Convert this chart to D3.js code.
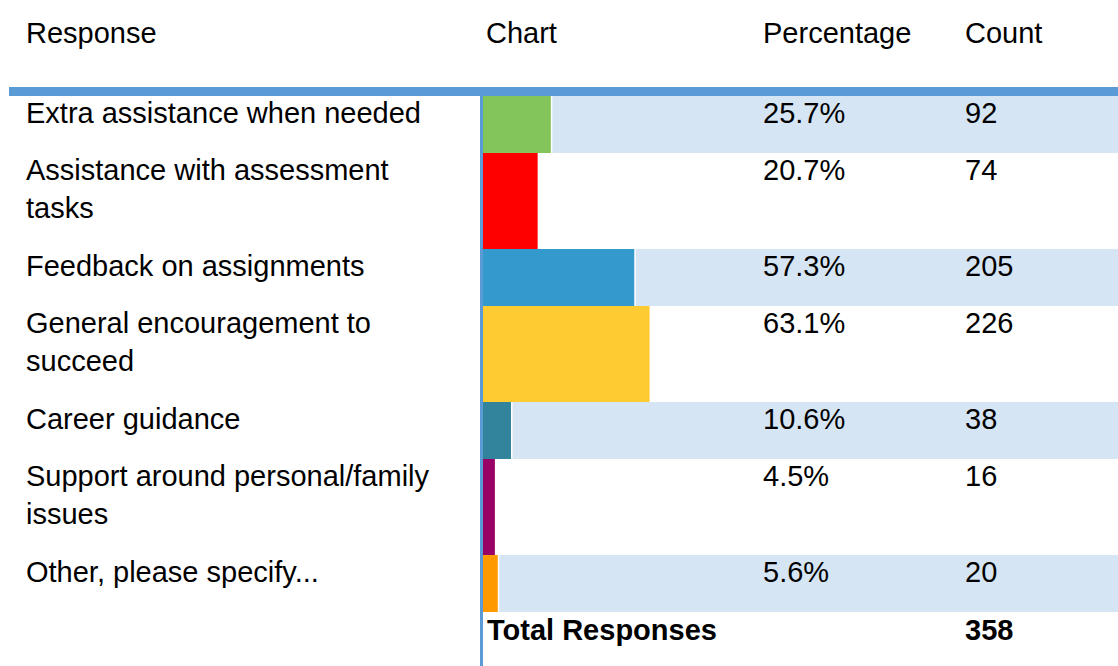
<!DOCTYPE html>
<html>
  <head>
	<meta charset="utf-8" />
	<title>Survey Responses</title>
	<script src="https://d3js.org/d3.v7.min.js"></script>
	<style>
		body { margin: 0; background: #fff; }
		svg text { font-family: "Liberation Sans", Arial, sans-serif; font-size: 29px; fill: #000; }
		.total { font-weight: bold; }
	</style>
  </head>
  <body>
	<svg id="chart"></svg>
    <script type="text/javascript">
		const width = 1118, height = 666;

		const headers = ["Response", "Chart", "Percentage", "Count"];
		const responses = [
			"Extra assistance when needed",
			"Assistance with assessment tasks",
			"Feedback on assignments",
			"General encouragement to succeed",
			"Career guidance",
			"Support around personal/family issues",
			"Other, please specify..."
		];
		const percentages = [25.7, 20.7, 57.3, 63.1, 10.6, 4.5, 5.6];
		const counts = [92, 74, 205, 226, 38, 16, 20];
		const totalLabel = "Total Responses";
		const totalCount = 358;

		const barColors = ["#83c55b", "#ff0000", "#3499cc", "#ffcb33", "#32849d", "#990066", "#ff9900"];
		const accent = "#5b9bd5";
		const shade = "#d6e5f4";

		//column x positions
		const colX = [26, 486, 763, 965];
		const chartLeft = 483;
		const headTop = 96;
		const lineH = 39, rowPad = 18, wrapWidth = 420;

		var svg = d3.select("#chart")
			.attr("width", width)
			.attr("height", height);

		var xScale = d3.scaleLinear()
			.domain([0, 100])
			.range([chartLeft, chartLeft + 264]);

		var color = d3.scaleOrdinal()
			.domain(responses)
			.range(barColors);

		//wrap labels by measuring them
		var probe = svg.append("text").attr("visibility", "hidden");
		function wrap(label) {
			var words = label.split(" "), lines = [], cur = "";
			words.forEach(function(w) {
				var test = cur ? cur + " " + w : w;
				probe.text(test);
				if (cur && probe.node().getComputedTextLength() > wrapWidth) {
					lines.push(cur);
					cur = w;
				} else {
					cur = test;
				}
			});
			lines.push(cur);
			return lines;
		}

		var rows = [];
		var y = headTop;
		responses.forEach(function(r, i) {
			var lines = wrap(r);
			var h = lines.length * lineH + rowPad;
			rows.push({name: r, lines: lines, pct: percentages[i], count: counts[i], y: y, h: h, i: i});
			y += h;
		});
		probe.remove();
		var totalY = y;

		//header
		svg.append("g").selectAll("text")
			.data(headers)
			.join("text")
			.attr("x", function(d, i) { return colX[i]; })
			.attr("y", 43)
			.text(function(d) { return d; });

		var row = svg.append("g").selectAll("g")
			.data(rows)
			.join("g")
			.attr("transform", function(d) { return "translate(0," + d.y + ")"; });

		//shaded rows
		row.filter(function(d) { return d.i % 2 === 0; })
			.append("rect")
			.attr("x", function(d) { return xScale(d.pct) + 1.5; })
			.attr("y", 0)
			.attr("width", function(d) { return width - xScale(d.pct) - 1.5; })
			.attr("height", function(d) { return d.h; })
			.attr("fill", shade);

		row.append("rect")
			.attr("x", xScale(0))
			.attr("y", 0)
			.attr("width", function(d) { return xScale(d.pct) - xScale(0); })
			.attr("height", function(d) { return d.h; })
			.attr("fill", function(d) { return color(d.name); });

		row.append("text")
			.attr("x", colX[0])
			.attr("y", 27)
			.selectAll("tspan")
			.data(function(d) { return d.lines; })
			.join("tspan")
			.attr("x", colX[0])
			.attr("dy", function(d, i) { return i === 0 ? 0 : lineH - 1; })
			.text(function(d) { return d; });

		row.append("text")
			.attr("x", colX[2])
			.attr("y", 27)
			.text(function(d) { return d3.format(".1f")(d.pct) + "%"; });

		row.append("text")
			.attr("x", colX[3])
			.attr("y", 27)
			.text(function(d) { return d.count; });

		//total row
		svg.append("text")
			.attr("class", "total")
			.attr("x", colX[1] + 1)
			.attr("y", totalY + 28)
			.text(totalLabel);
		svg.append("text")
			.attr("class", "total")
			.attr("x", colX[3])
			.attr("y", totalY + 28)
			.text(totalCount);

		//rules
		svg.append("rect")
			.attr("x", chartLeft - 3)
			.attr("y", headTop)
			.attr("width", 3)
			.attr("height", height - headTop)
			.attr("fill", accent);
		svg.append("rect")
			.attr("x", 9)
			.attr("y", 87)
			.attr("width", width - 9)
			.attr("height", 9)
			.attr("fill", accent);
	</script>
  </body>
</html>
